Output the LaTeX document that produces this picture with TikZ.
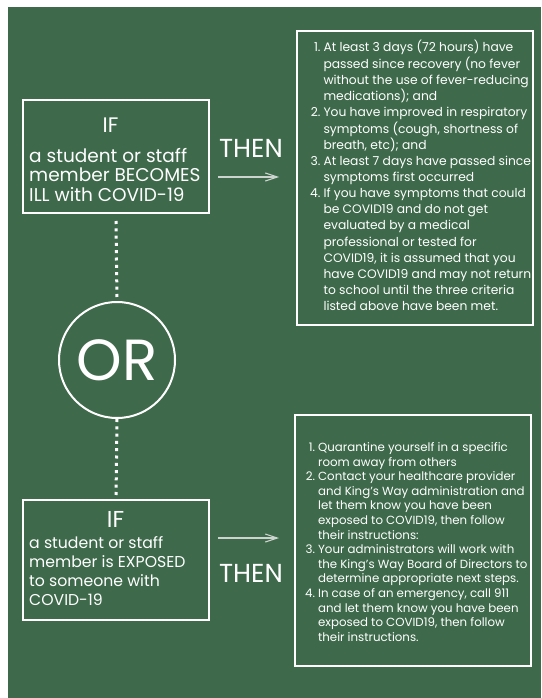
\documentclass[tikz,border=0pt]{standalone}
\usepackage{fontspec}
\setmainfont{Poppins}
\usetikzlibrary{arrows.meta}
\definecolor{board}{HTML}{3E6A4B}
\definecolor{chalkgray}{HTML}{CDD3CE}
\tikzset{
  leftbox/.style={draw=white, line width=2pt, minimum width=186pt, minimum height=#1, inner sep=0pt},
  rightbox/.style={draw=white, line width=2.8pt, minimum width=236pt, minimum height=#1, inner sep=0pt},
  iftext/.style={text=white, inner sep=0pt},
  bodytext/.style={text=white, inner sep=0pt, anchor=base west},
  thentext/.style={text=white, inner sep=0pt, font=\fontsize{26}{30}\selectfont},
  chalkarrow/.style={draw=chalkgray, line width=1.1pt, -{Straight Barb[length=12pt,width=8pt]}},
  dotline/.style={draw=white, line width=3pt, dash pattern=on 3pt off 4.3pt},
  ordisc/.style={draw=white, line width=2pt, circle, minimum size=116pt, inner sep=0pt, text=white, font=\fontsize{58}{62}\selectfont}
}
\begin{document}
\begin{tikzpicture}[x=1pt,y=-1pt]
\useasboundingbox (0,0) rectangle (541,698);
\fill[white] (0,0) rectangle (541,698);
\fill[board] (8,7) rectangle (541,698);

% left boxes
\node[leftbox=113pt] (ill) at (116,156.5) {};
\node[iftext, font=\fontsize{21}{24}\selectfont] (ifA) at (110.5,125.5) {IF};
\node[bodytext, font=\fontsize{18.5}{19}\selectfont] (illtxt) at (29,162)
  {\begin{tabular}[t]{@{}l@{}}a student or staff\\member BECOMES\\ILL with COVID-19\end{tabular}};

\node[leftbox=120pt] (exp) at (116,560) {};
\node[iftext, font=\fontsize{23}{26}\selectfont] (ifB) at (115.5,519.5) {IF};
\node[bodytext, font=\fontsize{15.7}{19.3}\selectfont] (exptxt) at (29,548)
  {\begin{tabular}[t]{@{}l@{}}a student or staff\\member is EXPOSED\\to someone with\\COVID-19\end{tabular}};

% OR
\node[ordisc] (or) at (117,360) {OR};
\draw[dotline] (ill.south) ++(0,7) coordinate (d1) -- (or.north);
\draw[dotline] (or.south) -- (exp.north);

% THEN + arrows
\node[thentext] (thenA) at (251,148.5) {THEN};
\coordinate (a1s) at (218,177);
\coordinate (a1e) at (279,177);
\draw[chalkarrow] (a1s) -- (a1e);

\node[thentext] (thenB) at (251,573.5) {THEN};
\coordinate (a2s) at (218,538);
\coordinate (a2e) at (279,538);
\draw[chalkarrow] (a2s) -- (a2e);

% right boxes
\node[rightbox=294pt] (ruleA) at (415,178) {};
\node[bodytext, font=\fontsize{12.3}{16.1}\selectfont] (listA) at (310,52)
{\begin{tabular}[t]{@{}r@{\hspace{3pt}}l@{}}
1. & At least 3 days (72 hours) have\\
   & passed since recovery (no fever\\
   & without the use of fever-reducing\\
   & medications); and\\
2. & You have improved in respiratory\\
   & symptoms (cough, shortness of\\
   & breath, etc); and\\
3. & At least 7 days have passed since\\
   & symptoms first occurred\\
4. & If you have symptoms that could\\
   & be COVID19 and do not get\\
   & evaluated by a medical\\
   & professional or tested for\\
   & COVID19, it is assumed that you\\
   & have COVID19 and may not return\\
   & to school until the three criteria\\
   & listed above have been met.
\end{tabular}};

\node[rightbox=251pt] (ruleB) at (413,540.5) {};
\node[bodytext, font=\fontsize{11.8}{14.6}\selectfont] (listB) at (305,451.5)
{\begin{tabular}[t]{@{}r@{\hspace{3pt}}l@{}}
1. & Quarantine yourself in a specific\\
   & room away from others\\
2. & Contact your healthcare provider\\
   & and King’s Way administration and\\
   & let them know you have been\\
   & exposed to COVID19, then follow\\
   & their instructions:\\
3. & Your administrators will work with\\
   & the King’s Way Board of Directors to\\
   & determine appropriate next steps.\\
4. & In case of an emergency, call 911\\
   & and let them know you have been\\
   & exposed to COVID19, then follow\\
   & their instructions.
\end{tabular}};
\end{tikzpicture}
\end{document}
